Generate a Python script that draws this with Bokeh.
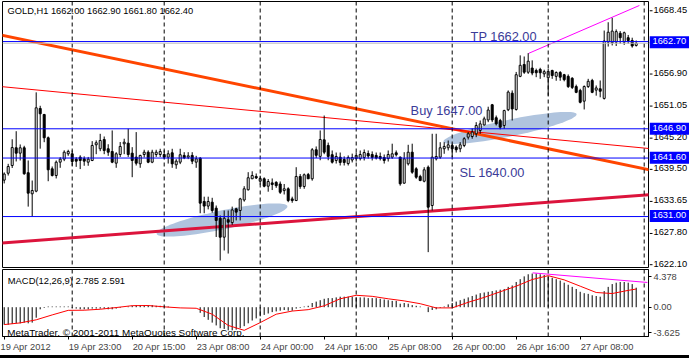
from bokeh.plotting import figure
from bokeh.layouts import column, row
from bokeh.models import FixedTicker, Label, Spacer, Range1d, Span
from bokeh.core.properties import value
from bokeh.embed import file_html
from bokeh.resources import INLINE
import numpy as np

FONT = "Liberation Sans"
SMALL = "9.3px"

opens = [1637.60, 1638.85, 1640.25, 1643.46, 1642.48, 1643.46, 1638.94, 1635.12, 1635.60, 1650.58,
         1649.49, 1645.27, 1639.65, 1638.44, 1640.85, 1641.40, 1642.37, 1642.37, 1641.40, 1641.76,
         1641.46, 1640.85, 1641.16, 1644.00, 1643.28, 1644.96, 1643.28, 1642.79, 1640.67, 1642.24,
         1644.18, 1644.30, 1642.48, 1641.76, 1640.56, 1642.24, 1642.66, 1640.85, 1642.24, 1642.24,
         1642.24, 1641.76, 1642.55, 1640.38, 1640.85, 1642.07, 1641.76, 1642.07, 1640.85, 1641.58,
         1633.73, 1632.90, 1633.60, 1632.52, 1630.70, 1627.26, 1630.43, 1629.90, 1632.40, 1632.10,
         1634.00, 1635.85, 1637.84, 1638.26, 1637.40, 1637.84, 1636.50, 1637.10, 1637.20, 1636.90,
         1635.70, 1636.03, 1634.20, 1633.90, 1638.26, 1636.45, 1638.60, 1637.84, 1643.10, 1641.90,
         1644.90, 1643.88, 1642.20, 1641.16, 1641.76, 1641.34, 1640.60, 1641.25, 1641.50, 1641.50,
         1641.70, 1642.42, 1642.24, 1642.07, 1641.88, 1641.70, 1641.50, 1641.76, 1642.55, 1641.76,
         1637.05, 1640.56, 1642.66, 1639.65, 1638.26, 1637.40, 1639.94, 1633.00, 1641.46, 1641.76,
         1643.28, 1643.46, 1643.88, 1643.57, 1643.28, 1643.88, 1645.38, 1645.50, 1645.99, 1646.60,
         1647.60, 1648.50, 1651.25, 1648.90, 1648.40, 1647.50, 1650.35, 1653.35, 1650.40, 1656.40,
         1658.55, 1657.15, 1657.90, 1657.46, 1657.65, 1656.85, 1656.15, 1657.46, 1656.40, 1657.10,
         1656.70, 1656.40, 1656.05, 1654.55, 1653.85, 1651.90, 1654.55, 1655.65, 1653.90, 1654.15,
         1652.40, 1662.60, 1662.50, 1662.60, 1664.20, 1662.60, 1663.40, 1662.90, 1662.00]
highs = [1639.00, 1640.55, 1645.00, 1646.46, 1644.06, 1643.82, 1641.16, 1637.53, 1653.50, 1651.07,
         1649.60, 1645.50, 1640.07, 1641.16, 1641.76, 1643.00, 1643.10, 1643.00, 1641.76, 1642.10,
         1641.90, 1641.80, 1644.66, 1644.80, 1645.99, 1645.50, 1644.10, 1646.60, 1642.66, 1644.50,
         1645.10, 1646.90, 1643.57, 1646.30, 1642.20, 1643.10, 1643.00, 1643.10, 1643.10, 1643.28,
         1643.00, 1643.00, 1643.28, 1641.40, 1643.28, 1642.66, 1642.66, 1642.66, 1642.00, 1641.76,
         1634.60, 1634.60, 1634.40, 1633.00, 1631.20, 1632.10, 1632.10, 1632.80, 1632.60, 1634.40,
         1636.50, 1639.04, 1639.20, 1638.80, 1638.40, 1638.10, 1637.80, 1637.90, 1637.40, 1637.35,
         1636.90, 1636.30, 1634.60, 1639.94, 1638.70, 1638.80, 1638.90, 1643.40, 1643.70, 1646.60,
         1649.30, 1644.40, 1642.97, 1642.60, 1642.60, 1641.90, 1642.07, 1642.40, 1642.60, 1642.97,
         1643.15, 1642.97, 1642.80, 1642.60, 1642.60, 1642.24, 1642.97, 1644.20, 1642.97, 1641.88,
         1642.66, 1644.00, 1644.20, 1639.94, 1638.57, 1639.94, 1640.25, 1646.00, 1646.00, 1644.47,
         1644.47, 1644.78, 1644.18, 1643.88, 1644.47, 1645.38, 1646.30, 1646.96, 1648.10, 1648.40,
         1649.10, 1650.90, 1651.40, 1649.30, 1648.70, 1650.35, 1653.85, 1653.85, 1657.20, 1660.20,
         1660.00, 1660.60, 1659.30, 1657.80, 1657.95, 1657.60, 1657.75, 1657.60, 1657.30, 1657.35,
         1656.85, 1656.75, 1656.25, 1654.90, 1654.15, 1654.75, 1655.95, 1655.95, 1654.75, 1655.65,
         1664.70, 1666.20, 1667.00, 1664.90, 1664.60, 1664.50, 1663.90, 1663.40, 1662.90]
lows = [1637.00, 1638.43, 1639.80, 1640.98, 1641.16, 1638.57, 1632.80, 1631.00, 1635.40, 1643.30,
        1644.47, 1637.40, 1638.26, 1637.90, 1639.83, 1641.04, 1642.00, 1640.20, 1640.00, 1639.60,
        1640.20, 1640.20, 1641.04, 1642.30, 1642.84, 1642.30, 1642.00, 1640.67, 1639.83, 1641.80,
        1642.30, 1641.80, 1638.13, 1640.25, 1639.83, 1641.70, 1640.67, 1640.67, 1641.80, 1641.80,
        1641.40, 1640.60, 1639.83, 1639.65, 1640.50, 1641.40, 1641.40, 1640.50, 1639.83, 1631.60,
        1631.60, 1632.30, 1631.70, 1627.30, 1623.04, 1624.85, 1624.30, 1629.50, 1630.30, 1630.30,
        1633.70, 1635.72, 1637.80, 1637.80, 1636.80, 1636.30, 1635.50, 1635.80, 1636.20, 1635.10,
        1635.00, 1633.60, 1633.50, 1633.80, 1636.03, 1636.03, 1637.80, 1637.50, 1641.60, 1641.20,
        1642.30, 1641.20, 1640.60, 1640.60, 1640.25, 1640.25, 1640.25, 1640.80, 1640.97, 1641.16,
        1641.16, 1641.50, 1641.16, 1641.34, 1641.16, 1640.60, 1640.97, 1641.46, 1641.88, 1636.60,
        1636.94, 1640.25, 1638.75, 1637.84, 1637.40, 1637.20, 1624.55, 1632.10, 1641.16, 1641.46,
        1642.37, 1642.97, 1641.76, 1642.60, 1642.66, 1643.57, 1644.96, 1645.10, 1645.38, 1646.00,
        1647.50, 1648.10, 1648.10, 1647.50, 1646.80, 1646.90, 1650.10, 1648.40, 1650.20, 1656.25,
        1656.85, 1656.85, 1656.60, 1656.25, 1655.95, 1656.25, 1652.90, 1655.95, 1655.60, 1655.60,
        1655.50, 1654.30, 1654.10, 1653.35, 1651.50, 1650.40, 1654.30, 1653.35, 1652.90, 1652.60,
        1652.20, 1661.80, 1662.00, 1661.90, 1662.30, 1662.10, 1662.30, 1661.60, 1661.80]
closes = [1638.70, 1640.07, 1643.50, 1642.48, 1643.46, 1638.75, 1635.24, 1635.72, 1650.70, 1649.62,
          1645.27, 1639.47, 1638.44, 1640.85, 1641.40, 1642.66, 1642.79, 1640.97, 1641.04, 1641.16,
          1641.04, 1641.40, 1643.88, 1644.37, 1644.78, 1642.97, 1642.66, 1640.85, 1642.37, 1643.70,
          1644.47, 1642.24, 1641.16, 1640.67, 1642.07, 1642.66, 1640.85, 1642.66, 1642.66, 1642.79,
          1641.76, 1642.37, 1640.56, 1641.04, 1642.20, 1641.65, 1642.00, 1641.04, 1641.46, 1633.43,
          1632.90, 1633.73, 1632.10, 1630.29, 1627.26, 1630.70, 1629.98, 1632.20, 1631.80, 1634.20,
          1636.03, 1638.03, 1638.44, 1638.00, 1637.90, 1636.50, 1637.35, 1636.80, 1636.60, 1635.40,
          1636.03, 1633.90, 1633.90, 1638.26, 1636.45, 1638.57, 1637.84, 1643.10, 1642.10, 1644.96,
          1642.66, 1641.90, 1640.85, 1641.88, 1640.80, 1640.80, 1641.70, 1641.70, 1642.07, 1642.24,
          1642.60, 1641.97, 1641.70, 1641.60, 1641.50, 1641.16, 1642.24, 1642.37, 1642.20, 1636.94,
          1641.46, 1642.66, 1639.04, 1638.13, 1637.53, 1639.47, 1632.70, 1641.76, 1641.88, 1643.46,
          1643.70, 1644.00, 1643.28, 1643.10, 1644.00, 1645.10, 1645.99, 1646.30, 1647.50, 1647.80,
          1648.70, 1650.30, 1648.50, 1647.80, 1647.20, 1650.20, 1653.55, 1650.50, 1656.70, 1658.40,
          1657.15, 1659.15, 1657.00, 1657.05, 1657.05, 1657.25, 1657.30, 1656.55, 1657.10, 1656.25,
          1655.80, 1654.55, 1654.40, 1653.50, 1651.70, 1654.55, 1655.50, 1653.50, 1654.30, 1653.70,
          1662.80, 1664.40, 1664.60, 1664.50, 1663.40, 1664.30, 1662.90, 1661.90, 1662.40]

macd_hist = [-2.5, -2.5, -2.4, -2.3, -2.3, -2.2, -2.3, -2.2, -1.5,
             -0.3, -0.1, 0.1, 0.1, 0.1, 0.1, 0.1, 0.1,
             -0.1, -0.2, -0.3, -0.3, -0.3, -0.2, -0.2, -0.2, -0.2, -0.3, -0.3, -0.2, -0.1, 0.0,
             0.1, 0.2, 0.3, 0.3, 0.3, 0.3, 0.3, 0.2, 0.2, 0.1,
             0.1, 0.0, 0.0, 0.0, 0.0, 0.0, 0.0, 0.0,
             -0.8, -1.4, -1.8, -2.2, -2.6, -3.0, -3.1, -3.3, -3.3, -3.2,
             -3.0, -2.7, -2.3, -1.9, -1.6, -1.3, -1.1, -0.9,
             -0.7, -0.6, -0.5, -0.4, -0.5, -0.5, -0.2, -0.1, 0.1, 0.2,
             0.6, 0.8, 1.0, 1.2, 1.3, 1.3, 1.4, 1.5, 1.5,
             1.5, 1.5, 1.4, 1.4, 1.4, 1.3, 1.3, 1.3, 1.2, 1.1, 1.0, 0.9, 0.9,
             0.5, 0.6, 0.5, 0.3, 0.2, 0.1, 0.0,
             -0.7, -0.4, -0.3, -0.1, 0.1,
             0.4, 0.6, 0.8, 1.0, 1.2, 1.4, 1.6, 1.8, 2.0, 2.1, 2.2, 2.3, 2.4, 2.5, 2.6, 2.9, 3.1, 3.6, 4.0, 4.4,
             4.7, 4.8, 4.8, 4.7, 4.6,
             4.4, 4.2, 4.0, 3.8, 3.5, 3.2, 2.9, 2.6, 2.2, 2.0, 1.9, 1.7, 1.6, 1.5,
             2.3, 2.9, 3.3, 3.5, 3.6, 3.6, 3.5, 3.3, 2.785]

signal_bars = [0, 4, 8, 12, 16, 20, 24, 28, 32, 36, 40, 44, 48, 52, 56, 60, 64, 68, 72, 76,
               80, 84, 88, 92, 96, 100, 104, 108, 112, 116, 120, 124, 128, 132, 136, 140, 144,
               148, 152, 156, 158]
signal_vals = [-2.48, -2.24, -1.8, -1.1, -0.45, -0.43, -0.29, -0.05, 0.22, 0.24, 0.05, -0.1,
               -0.15, -1.0, -2.6, -3.3, -2.2, -1.0, -0.55, -0.35, 0.2, 1.2, 1.7, 1.55, 1.2, 0.9,
               0.5, -0.1, -0.1, 0.7, 1.4, 2.2, 3.0, 3.95, 4.5, 3.9, 3.0, 2.1, 1.95, 2.4, 2.591]

time_tick_bars = [0, 16, 32, 48, 64, 80, 96, 112, 128, 144]
time_tick_labels = ["19 Apr 2012", "19 Apr 23:00", "20 Apr 15:00", "23 Apr 08:00", "24 Apr 00:00",
                    "24 Apr 16:00", "25 Apr 08:00", "26 Apr 00:00", "26 Apr 16:00", "27 Apr 08:00"]
midnight_bars = [17, 40, 64, 88, 112, 136, 160]
price_ticks = [1622.10, 1627.80, 1633.65, 1639.50, 1645.20, 1651.05, 1656.90, 1662.60, 1668.45]
macd_ticks = [-3.625, 0.0, 4.378]
macd_tick_labels = ["-3.625", "0.00", "4.378"]

hline_prices = [1662.70, 1646.90, 1641.60, 1631.00]
bid_price = 1662.40

# trend lines: (bar, price) end points
orange_line = [(-2, 1664.07), (162, 1639.37)]
red_line = [(-2, 1654.63), (162, 1643.27)]
crimson_line = [(-2, 1626.12), (162, 1634.99)]
magenta_line = [(131.1, 1660.56), (158.8, 1669.24)]
macd_magenta_line = [(132.1, 4.9), (160.8, 3.53)]

# ellipse objects: start (bar, price), end (bar, price), half height (price)
ell_start_bar = [38.1, 109.8]
ell_start_price = [1627.93, 1644.6]
ell_end_bar = [70.8, 143.1]
ell_end_price = [1632.82, 1649.5]
ell_half = [1.75, 1.55]

texts = ["TP 1662.00", "Buy 1647.00", "SL 1640.00"]
text_bar = [116.6, 101.6, 113.8]
text_price = [1663.53, 1650.2, 1638.9]

X0, X1 = -0.425, 161.075
PLO, PHI = 1621.77, 1669.96
idx = np.arange(len(closes))
o = np.array(opens); c = np.array(closes)
up = c >= o

def base(fig):
    fig.grid.visible = False
    fig.background_fill_color = "white"
    fig.border_fill_color = "white"
    return fig

# ---------------- main price panel ----------------
p = base(figure(width=649, height=268, x_range=Range1d(X0, X1), y_range=Range1d(PLO, PHI),
                output_backend="svg", toolbar_location=None, y_axis_location=None,
                x_axis_location=None, min_border_left=2, min_border_right=1,
                min_border_top=1, min_border_bottom=1))
p.outline_line_color = "black"

t = np.linspace(0, 2 * np.pi, 90)
for sb, sp, eb, ep, h in zip(ell_start_bar, ell_start_price, ell_end_bar, ell_end_price, ell_half):
    cx, cy = (sb + eb) / 2, (sp + ep) / 2
    dx, dy = (eb - sb) / 2, (ep - sp) / 2
    p.patch(cx + np.cos(t) * dx, cy + np.cos(t) * dy + np.sin(t) * h,
            fill_color="#B0C4DE", line_color=None)

for b in midnight_bars:
    p.add_layout(Span(location=b, dimension="height", line_color="black",
                      line_dash="4 3", line_width=1))
for hp in hline_prices:
    p.add_layout(Span(location=hp, dimension="width", line_color="#0000FF", line_width=1))
p.add_layout(Span(location=bid_price, dimension="width", line_color="#C0C0C0", line_width=1))

for ln, col, w in [(orange_line, "#FF4500", 3), (red_line, "#FF0000", 1),
                   (crimson_line, "#DC143C", 3), (magenta_line, "#FF00FF", 1)]:
    p.line([ln[0][0], ln[1][0]], [ln[0][1], ln[1][1]], line_color=col, line_width=w)

p.segment(x0=idx, y0=lows, x1=idx, y1=highs, line_color="black", line_width=1)
p.vbar(x=idx[up], width=0.5, top=c[up], bottom=o[up], fill_color="white",
       line_color="black", line_width=1)
p.vbar(x=idx[~up], width=0.5, top=o[~up], bottom=c[~up], fill_color="black",
       line_color="black", line_width=1)

for tx, tb, tp in zip(texts, text_bar, text_price):
    p.add_layout(Label(x=tb, y=tp, text=tx, text_align="left", text_baseline="middle",
                       text_font=FONT, text_font_size="12.8px", text_color="#3B3B98"))

p.add_layout(Label(x=0.83, y=1668.28, text="GOLD,H1  1662.00 1662.90 1661.80 1662.40",
                   text_align="left", text_baseline="middle", text_font=FONT,
                   text_font_size="9.3px", text_color="black"))

# ---------------- price scale strip (right of the chart) ----------------
ppx = (PHI - PLO) / 266.0
s = base(figure(width=40, height=268, x_range=Range1d(649, 689),
                y_range=Range1d(PLO - ppx, PHI + ppx),
                output_backend="svg", toolbar_location=None, y_axis_location=None,
                x_axis_location=None, min_border_left=0, min_border_right=0,
                min_border_top=0, min_border_bottom=0))
s.outline_line_color = None
s.segment(x0=649, y0=price_ticks, x1=652, y1=price_ticks, line_color="black", line_width=1)
s.text(x=653, y=price_ticks, text=[f"{v:.2f}" for v in price_ticks], text_align="left",
       text_baseline="middle", y_offset=-1, text_font=value(FONT), text_font_size=SMALL,
       text_color="black")
s.rect(x=669, y=hline_prices, width=40, height=12, height_units="screen",
       fill_color="#0000FF", line_color=None)
s.text(x=652, y=hline_prices, text=[f"{v:.2f}" for v in hline_prices], text_align="left",
       text_baseline="middle", y_offset=-1, text_font=value(FONT), text_font_size=SMALL,
       text_color="white")

# ---------------- MACD panel ----------------
m = base(figure(width=689, height=87, x_range=p.x_range, y_range=Range1d(-4.18, 5.38),
                output_backend="svg", toolbar_location=None, y_axis_location="right",
                min_border_left=2, min_border_right=41, min_border_top=1, min_border_bottom=19))
m.outline_line_color = "black"

my = m.yaxis[0]
my.ticker = FixedTicker(ticks=macd_ticks)
my.major_label_overrides = {k: v for k, v in zip(macd_ticks, macd_tick_labels)}
my.major_label_text_font = FONT
my.major_label_text_font_size = SMALL
my.major_tick_out = 3
my.major_tick_in = 0
my.minor_tick_out = 0
my.minor_tick_in = 0
my.major_label_standoff = 2
my.axis_line_color = "black"

NB = "\u00a0"
mx = m.xaxis[0]
mx.ticker = FixedTicker(ticks=time_tick_bars)
mx.major_label_overrides = {k: (v if i == 0 else NB * 21 + v)
                            for i, (k, v) in enumerate(zip(time_tick_bars, time_tick_labels))}
mx.major_label_text_font = FONT
mx.major_label_text_font_size = SMALL
mx.major_tick_out = 3
mx.major_tick_in = 0
mx.minor_tick_out = 0
mx.minor_tick_in = 0
mx.major_label_standoff = 2
mx.axis_line_color = "black"

for b in midnight_bars:
    m.add_layout(Span(location=b, dimension="height", line_color="black",
                      line_dash="4 3", line_width=1))

m.segment(x0=idx, y0=np.zeros(len(idx)), x1=idx, y1=macd_hist, line_color="black", line_width=1)
m.line(signal_bars, signal_vals, line_color="#FF0000", line_width=1)
m.line([macd_magenta_line[0][0], macd_magenta_line[1][0]],
       [macd_magenta_line[0][1], macd_magenta_line[1][1]], line_color="#FF00FF", line_width=1)

m.add_layout(Label(x=0.9, y=3.88, text="MACD(12,26,9) 2.785 2.591", text_align="left",
                   text_baseline="middle", text_font=FONT, text_font_size="9.4px",
                   text_color="black"))
m.add_layout(Label(x=0.75, y=-3.54, text="MetaTrader, \u00a9 2001-2011 MetaQuotes Software Corp.",
                   text_align="left", text_baseline="middle", text_font=FONT,
                   text_font_size="9.9px", text_color="black"))

bottom = Spacer(width=689, height=3, styles={"background-color": "black"})

layout = column(row(p, s, spacing=0), m, bottom, spacing=0)
open("out.html", "w").write(file_html(layout, INLINE))
